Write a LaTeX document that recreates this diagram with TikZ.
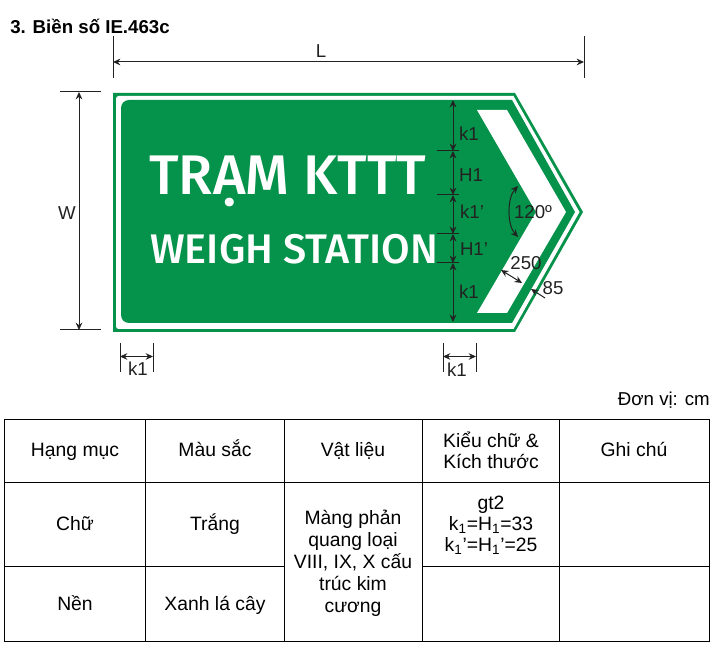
\documentclass[tikz,border=0pt]{standalone}
\usepackage{fontspec}
\setmainfont{Liberation Sans}
\newfontfamily\signfont{Fira Sans}[UprightFont=* Medium]
\usetikzlibrary{arrows.meta}
\definecolor{signgreen}{HTML}{05924A}
\definecolor{dimink}{HTML}{222222}
\tikzset{
  x=0.75pt,y=-0.75pt,
  dimline/.style={draw=dimink,line width=0.75pt},
  dimarrow/.style={dimline,{Stealth[length=5.5pt,width=5pt]}-{Stealth[length=5.5pt,width=5pt]}},
  dimlabel/.style={text=dimink,font=\fontsize{14}{16}\selectfont,inner sep=0pt},
  cellbox/.style={align=center,inner sep=0pt,font=\fontsize{14.5}{16.5}\selectfont},
  onecell/.style={cellbox,text height=10.5pt,text depth=3pt},
  rule/.style={draw=black,line width=0.75pt},
  signtext/.style={text=white,inner sep=0pt,anchor=base west,font=\signfont},
}
\begin{document}
\begin{tikzpicture}
\useasboundingbox (0,0) rectangle (717,648);
% sign
\fill[signgreen] (113,93) -- (515,93) -- (583,212) -- (515,332) -- (113,332) -- cycle;
\fill[white] (513.5,96) -- (579.5,212) -- (513.5,329)
  {[rounded corners=2pt] -- (116,329) -- (116,96)} -- cycle;
\fill[signgreen] (512,100) -- (575,212) -- (512,323)
  {[rounded corners=6pt] -- (121,323) -- (121,100)} -- cycle;
\fill[white] (477,110) -- (507,110) -- (566,212) -- (507,313) -- (477,313) -- (536,212) -- cycle;
\node[signtext] (t1) at (149,195) {\resizebox{207.75pt}{!}{\fontsize{40}{40}\selectfont TRẠM KTTT}};
\node[signtext] (t2) at (150,263.5) {\resizebox{216pt}{!}{\fontsize{40}{40}\selectfont WEIGH STATION}};
% title
\node[anchor=west,inner sep=0pt,font=\fontsize{14}{16}\selectfont\bfseries] (title) at (10,26) {3. Biền số IE.463c};
% L
\coordinate (La) at (113,36); \coordinate (Lb) at (113,78);
\coordinate (Lc) at (584,36); \coordinate (Ld) at (584,78);
\coordinate (Le) at (113,62); \coordinate (Lf) at (584,62);
\draw[dimline] (La) -- (Lb); \draw[dimline] (Lc) -- (Ld);
\draw[dimarrow] (Le) -- (Lf);
\node[dimlabel] (Ltxt) at (321,51) {L};
% W
\coordinate (Wa) at (60,92); \coordinate (Wb) at (101,92);
\coordinate (Wc) at (60,330); \coordinate (Wd) at (101,330);
\coordinate (We) at (79,92); \coordinate (Wf) at (79,330);
\draw[dimline] (Wa) -- (Wb); \draw[dimline] (Wc) -- (Wd);
\draw[dimarrow] (We) -- (Wf);
\node[dimlabel] (Wtxt) at (67,213) {W};
% bottom k1
\coordinate (Aa) at (120,343); \coordinate (Ab) at (120,372);
\coordinate (Ac) at (153,343); \coordinate (Ad) at (153,372);
\coordinate (Ae) at (120,356.5); \coordinate (Af) at (153,356.5);
\draw[dimline] (Aa) -- (Ab); \draw[dimline] (Ac) -- (Ad);
\draw[dimarrow] (Ae) -- (Af);
\node[dimlabel] (Atxt) at (138,369) {k1};
\coordinate (Ba) at (443,343); \coordinate (Bb) at (443,372);
\coordinate (Bc) at (476,343); \coordinate (Bd) at (476,372);
\coordinate (Be) at (443,356.5); \coordinate (Bf) at (476,356.5);
\draw[dimline] (Ba) -- (Bb); \draw[dimline] (Bc) -- (Bd);
\draw[dimarrow] (Be) -- (Bf);
\node[dimlabel] (Btxt) at (457,370) {k1};
% vertical stack
\coordinate (v0) at (453,100); \coordinate (v1) at (453,151); \coordinate (v2) at (453,195);
\coordinate (v3) at (453,234); \coordinate (v4) at (453,263); \coordinate (v5) at (453,322);
\foreach \p/\q in {v0/v1,v1/v2,v2/v3,v3/v4,v4/v5} \draw[dimarrow] (\p) -- (\q);
\coordinate (s1) at (437,151); \coordinate (e1) at (459,151);
\coordinate (s2) at (437,195); \coordinate (e2) at (459,195);
\coordinate (s3) at (437,234); \coordinate (e3) at (459,234);
\coordinate (s4) at (437,263); \coordinate (e4) at (459,263);
\foreach \i in {1,2,3,4} \draw[dimline] (s\i) -- (e\i);
\node[dimlabel] (d1) at (469,134) {k1};
\node[dimlabel] (d2) at (471,175) {H1};
\node[dimlabel] (d3) at (472,212) {k1’};
\node[dimlabel] (d4) at (474,249) {H1’};
\node[dimlabel] (d5) at (469,292) {k1};
% angle
\coordinate (ang1) at (518,186); \coordinate (ang2) at (518,237);
\draw[dimarrow] (ang1) .. controls (507,198) and (507,225) .. (ang2);
\node[dimlabel] (angt) at (533,212) {120º};
% 250
\coordinate (w1) at (501,270); \coordinate (w2) at (522,283);
\draw[dimarrow] (w1) -- (w2);
\node[dimlabel] (wt) at (526,263) {250};
% 85
\coordinate (n1) at (531,289); \coordinate (n2) at (545,298);
\draw[dimline,{Stealth[length=5.5pt,width=5pt]}-] (n1) -- (n2);
\node[dimlabel] (nt) at (553,288) {85};
% table
\node[anchor=east,inner sep=0pt,font=\fontsize{14}{16}\selectfont] (unit) at (710,400) {Đơn vị: cm};
\draw[rule] (4,419) rectangle (709,641);
\draw[rule] (4,482) -- (709,482);
\draw[rule] (4,566) -- (284,566);
\draw[rule] (422,566) -- (709,566);
\foreach \x in {145,284,422,559} \draw[rule] (\x,419) -- (\x,641);
\node[onecell] (h1) at (75,451) {Hạng mục};
\node[onecell] (h2) at (215,451) {Màu sắc};
\node[onecell] (h3) at (353,451) {Vật liệu};
\node[cellbox,font=\fontsize{14.5}{15.75}\selectfont] (h4) at (491,450) {Kiểu chữ \&\\Kích thước};
\node[onecell] (h5) at (634,451) {Ghi chú};
\node[onecell] (c1) at (75,525) {Chữ};
\node[onecell] (c2) at (215,525) {Trắng};
\node[cellbox] (c3) at (353,563) {Màng phản\\quang loại\\VIII, IX, X cấu\\trúc kim\\cương};
\node[cellbox,font=\fontsize{14.5}{15.75}\selectfont] (c4) at (491,525) {gt2\\k\textsubscript{1}=H\textsubscript{1}=33\\k\textsubscript{1}’=H\textsubscript{1}’=25};
\node[onecell] (c5) at (75,605) {Nền};
\node[onecell] (c6) at (215,605) {Xanh lá cây};
\end{tikzpicture}
\end{document}
